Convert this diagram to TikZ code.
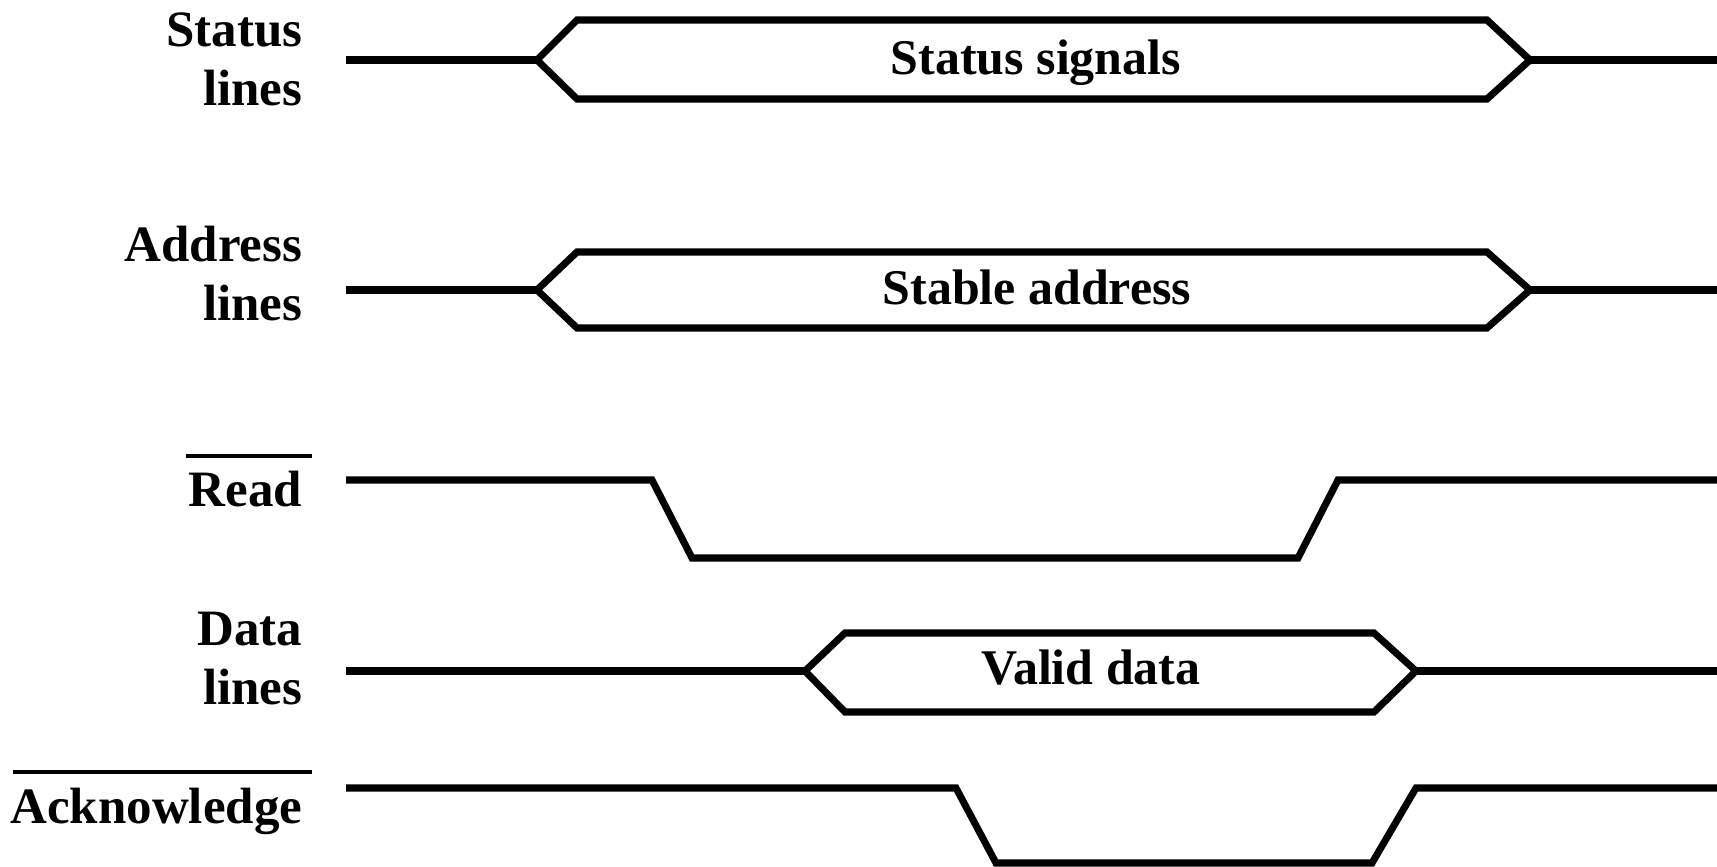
\documentclass[tikz,border=0pt]{standalone}
\usepackage{fontspec}
\setmainfont{Liberation Serif}
\begin{document}
\begin{tikzpicture}[x=0.01cm,y=-0.01cm,
  sig/.style={line width=2pt, line join=miter},
  ovl/.style={line width=1.4pt},
  lbl/.style={font=\fontsize{14.5}{17}\selectfont\bfseries, inner sep=0pt, anchor=base east},
  txt/.style={font=\fontsize{14.2}{17}\selectfont\bfseries, inner sep=0pt, anchor=base}]
\useasboundingbox (0,0) rectangle (1717,867);
% labels
\node[lbl] (st1) at (303,47) {Status};
\node[lbl] (st2) at (303,106) {lines};
\node[lbl] (ad1) at (303,262) {Address};
\node[lbl] (ad2) at (303,321) {lines};
\node[lbl] (rd) at (303,507) {Read};
\node[lbl] (da1) at (303,645) {Data};
\node[lbl] (da2) at (303,704) {lines};
\node[lbl] (ack) at (303,823) {Acknowledge};
% overlines
\draw[ovl] (186,456) -- (312,456);
\draw[ovl] (13,772) -- (312,772);
% status
\draw[sig] (346,60) -- (537,60);
\draw[sig] (537,60) -- (577,20) -- (1487,20) -- (1530,60) -- (1487,99) -- (577,99) -- cycle;
\draw[sig] (1530,60) -- (1717,60);
\node[txt] (sts) at (1036,75) {Status signals};
% address
\draw[sig] (346,290) -- (537,290);
\draw[sig] (537,290) -- (577,252) -- (1487,252) -- (1530,290) -- (1487,328) -- (577,328) -- cycle;
\draw[sig] (1530,290) -- (1717,290);
\node[txt] (sta) at (1037,305) {Stable address};
% read
\draw[sig] (346,480) -- (652,480) -- (692,558) -- (1298,558) -- (1338,480) -- (1717,480);
% data
\draw[sig] (346,671) -- (805,671);
\draw[sig] (805,671) -- (845,633) -- (1374,633) -- (1416,671) -- (1374,712) -- (845,712) -- cycle;
\draw[sig] (1416,671) -- (1717,671);
\node[txt] (vd) at (1091,685) {Valid data};
% acknowledge
\draw[sig] (346,788) -- (956,788) -- (996,863) -- (1372,863) -- (1416,788) -- (1717,788);
\end{tikzpicture}
\end{document}
